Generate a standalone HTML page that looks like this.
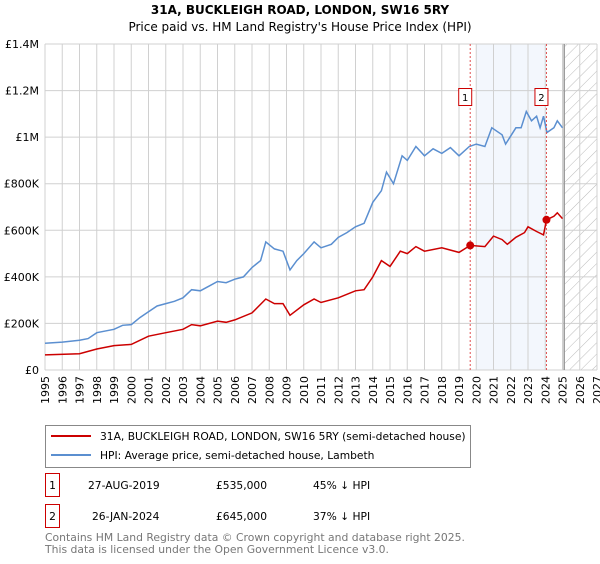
<!DOCTYPE html>
<html><head><meta charset="utf-8"><style>
body{margin:0;background:#fff;font-family:"DejaVu Sans","Liberation Sans",sans-serif;}
svg text{font-family:"DejaVu Sans","Liberation Sans",sans-serif;}
</style></head><body>
<svg width="600" height="560" viewBox="0 0 600 560" xmlns="http://www.w3.org/2000/svg">
<defs><pattern id="hatch" width="8" height="8" patternUnits="userSpaceOnUse" patternTransform="rotate(45)"><line x1="0" y1="0" x2="0" y2="8" stroke="#bbb" stroke-width="1"/></pattern></defs>
<text x="300" y="14" text-anchor="middle" font-size="12" font-weight="bold">31A, BUCKLEIGH ROAD, LONDON, SW16 5RY</text>
<text x="300" y="31" text-anchor="middle" font-size="12">Price paid vs. HM Land Registry's House Price Index (HPI)</text>
<g id="plot"></g>
<g>
<rect x="45.5" y="425.5" width="425" height="42" fill="#fff" stroke="#888"/>
<line x1="51" y1="436" x2="91" y2="436" stroke="#cc0000" stroke-width="2"/>
<text x="100" y="440" font-size="10.7">31A, BUCKLEIGH ROAD, LONDON, SW16 5RY (semi-detached house)</text>
<line x1="51" y1="455" x2="91" y2="455" stroke="#5b8fd0" stroke-width="2"/>
<text x="100" y="459" font-size="10.7">HPI: Average price, semi-detached house, Lambeth</text>
</g>
<g font-size="10.7">
<rect x="45.5" y="473.5" width="14" height="23" fill="#fff" stroke="#cc0000"/><text x="52.5" y="489" text-anchor="middle">1</text>
<text x="88" y="489">27-AUG-2019</text><text x="216" y="489">£535,000</text><text x="313" y="489">45% ↓ HPI</text>
<rect x="45.5" y="504.5" width="14" height="23" fill="#fff" stroke="#cc0000"/><text x="52.5" y="520" text-anchor="middle">2</text>
<text x="92" y="520">26-JAN-2024</text><text x="216" y="520">£645,000</text><text x="313" y="520">37% ↓ HPI</text>
</g>
<text x="45" y="541" font-size="10.8" fill="#777">Contains HM Land Registry data © Crown copyright and database right 2025.</text>
<text x="45" y="553" font-size="10.8" fill="#777">This data is licensed under the Open Government Licence v3.0.</text>
</svg>
<script>
const yearTicks=[1995,1996,1997,1998,1999,2000,2001,2002,2003,2004,2005,2006,2007,2008,2009,2010,2011,2012,2013,2014,2015,2016,2017,2018,2019,2020,2021,2022,2023,2024,2025,2026,2027];
const priceTicks=[0,200000,400000,600000,800000,1000000,1200000,1400000];
const priceTickLabels=["£0","£200K","£400K","£600K","£800K","£1M","£1.2M","£1.4M"];
const hpiDates=[1995,1996,1997,1997.5,1998,1999,1999.5,2000,2000.5,2001,2001.5,2002,2002.5,2003,2003.5,2004,2004.5,2005,2005.5,2006,2006.5,2007,2007.5,2007.8,2008.3,2008.8,2009.2,2009.6,2010,2010.6,2011,2011.6,2012,2012.5,2013,2013.5,2014,2014.5,2014.8,2015.2,2015.7,2016,2016.5,2017,2017.5,2018,2018.5,2019,2019.6,2020,2020.5,2020.9,2021.5,2021.7,2022.3,2022.6,2022.9,2023.2,2023.5,2023.7,2023.9,2024.1,2024.5,2024.7,2025];
const hpiValues=[115,120,128,135,160,175,192,195,225,250,275,285,295,310,345,340,360,380,375,390,400,440,470,550,520,510,430,470,500,550,525,540,570,590,615,630,720,770,850,800,920,900,960,920,950,930,955,920,960,970,960,1040,1010,970,1040,1040,1110,1070,1090,1040,1090,1020,1040,1070,1040];
const propDates=[1995,1997,1998,1999,2000,2001,2002,2003,2003.5,2004,2005,2005.5,2006,2007,2007.8,2008.3,2008.8,2009.2,2010,2010.6,2011,2012,2013,2013.5,2014,2014.5,2015,2015.6,2016,2016.5,2017,2018,2019,2019.65,2020.5,2021,2021.5,2021.8,2022.3,2022.8,2023,2023.5,2023.9,2024.07,2024.5,2024.7,2025];
const propValues=[65,70,90,105,110,145,160,175,195,190,210,205,215,245,305,285,285,235,280,305,290,310,340,345,400,470,445,510,500,530,510,525,505,535,530,575,560,540,570,590,615,595,580,645,660,675,650];
const saleDates=[2019.65,2024.07];
const saleValues=[535000,645000];
const saleLabels=["1","2"];
const X0=45,X1=597,Y0=370,Y1=44;
const xS=y=>X0+(y-1995)/(2027-1995)*(X1-X0);
const yS=v=>Y0-v/1400000*(Y0-Y1);
const NS="http://www.w3.org/2000/svg";
const g=document.getElementById('plot');
function mk(t,a,p){const e=document.createElementNS(NS,t);for(const k in a)e.setAttribute(k,a[k]);(p||g).appendChild(e);return e;}
let e;
e=mk('rect',{x:xS(2020),y:Y1,width:xS(saleDates[1])-xS(2020),height:Y0-Y1,fill:'#eef3fc',opacity:0.7});


e=mk('rect',{x:xS(2025.1),y:Y1,width:X1-xS(2025.1),height:Y0-Y1,fill:'url(#hatch)'});


yearTicks.forEach(yr=>{e=mk('line',{x1:xS(yr),x2:xS(yr),y1:Y1,y2:Y0,stroke:'#d0d0d0'});


const x=xS(yr),t=mk('text',{x:x+4,y:Y0+6,'font-size':11,transform:`rotate(-90 ${x+4} ${Y0+6})`,'text-anchor':'end'});t.textContent=yr;

});
priceTicks.forEach((v,i)=>{e=mk('line',{x1:X0,x2:X1,y1:yS(v),y2:yS(v),stroke:'#d0d0d0'});


const t=mk('text',{x:X0-6,y:yS(v)+4,'font-size':11,'text-anchor':'end'});t.textContent=priceTickLabels[i];

});
e=mk('line',{x1:xS(2025.1),x2:xS(2025.1),y1:Y1,y2:Y0,stroke:'#999','stroke-width':1.5});


function path(d,v){return d.map((x,i)=>(i?'L':'M')+xS(x).toFixed(1)+','+yS(v[i]*1000).toFixed(1)).join('');}
e=mk('path',{d:path(hpiDates,hpiValues),fill:'none',stroke:'#5b8fd0','stroke-width':1.5});


e=mk('path',{d:path(propDates,propValues),fill:'none',stroke:'#cc0000','stroke-width':1.5});


saleDates.forEach((d,i)=>{
e=mk('line',{x1:xS(d),x2:xS(d),y1:Y1,y2:Y0,stroke:'#e05050','stroke-dasharray':'2,2'});


e=mk('circle',{cx:xS(d),cy:yS(saleValues[i]),r:4,fill:'#cc0000'});


e=mk('rect',{x:xS(d)-11.5,y:88.5,width:13,height:17,fill:'#fff',stroke:'#cc0000'});


const t=mk('text',{x:xS(d)-5,y:101,'font-size':10,'text-anchor':'middle'});t.textContent=saleLabels[i];

});
</script>
</body></html>
